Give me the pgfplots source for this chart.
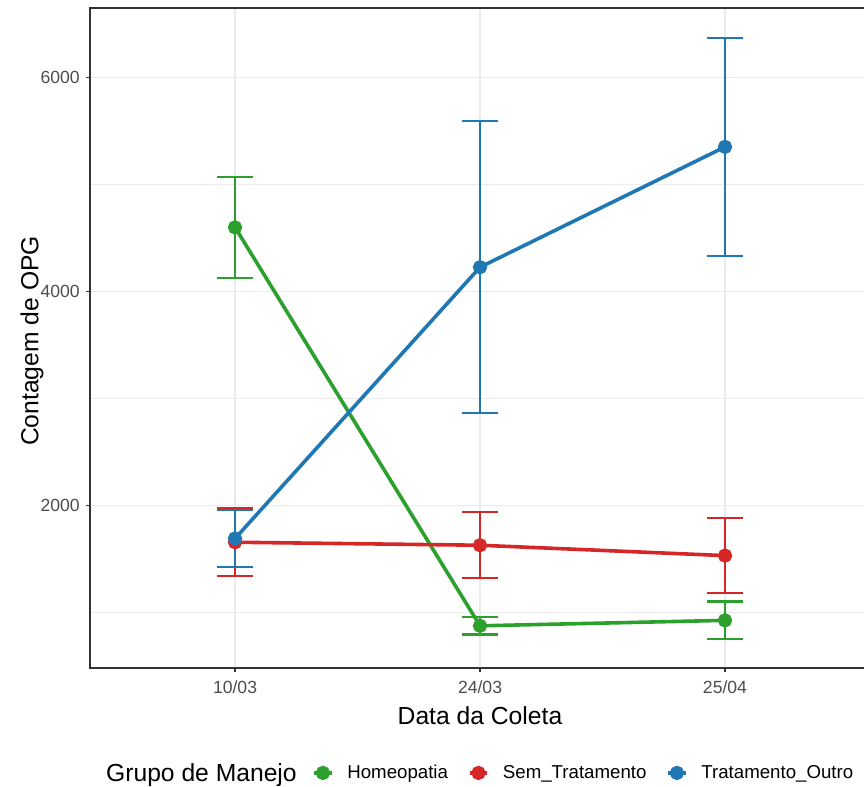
\documentclass[border=0pt]{standalone}
\usepackage{pgfplots}
\pgfplotsset{compat=1.18}
\usepackage{fontspec}
\setmainfont{Liberation Sans}
\definecolor{cH}{RGB}{44,160,44}
\definecolor{cS}{RGB}{214,39,40}
\definecolor{cT}{RGB}{31,119,180}
\definecolor{gridc}{RGB}{235,235,235}
\definecolor{g20}{RGB}{51,51,51}
\definecolor{g30}{RGB}{77,77,77}

\pgfplotstableread{
x y e lo hi
1 4597 473 4124 5070
2 874 80 794 954
3 925 175 750 1100
}\homeo
\pgfplotstableread{
x y e lo hi
1 1655 317 1338 1972
2 1627 308 1319 1935
3 1530 350 1180 1880
}\semtrat
\pgfplotstableread{
x y e lo hi
1 1690 268 1422 1958
2 4225 1365 2860 5590
3 5349 1018 4331 6367
}\tratout

\pgfplotsset{capstyle/.style={forget plot, only marks, mark=-, mark size=13.5pt, line width=1.8pt,
  mark options={line width=1.8pt, solid}, every mark/.append style={line width=1.8pt}}}

\begin{document}
\begin{tikzpicture}
\clip (-67.5pt,-89.25pt) rectangle (580.5pt,501pt);
\begin{axis}[
  at={(0,0)}, anchor=south west,
  scale only axis, width=586.5pt, height=495pt,
  xmin=0.408, xmax=3.6, ymin=480, ymax=6647,
  xtick={1,2,3}, xticklabels={10/03,24/03,25/04},
  ytick={2000,4000,6000}, minor ytick={1000,3000,5000},
  scaled y ticks=false,
  yticklabel={\pgfmathprintnumber[fixed,1000 sep={}]{\tick}},
  /pgf/number format/assume math mode=true,
  grid=both,
  major grid style={gridc, line width=0.9pt},
  minor grid style={gridc, line width=0.5pt},
  axis line style={g20, line width=0.8pt},
  tick align=outside, major tick length=3pt,
  major tick style={g20, line width=0.8pt},
  minor tick length=0pt,
  xtick pos=bottom, ytick pos=left,
  tick label style={font=\fontsize{13.2}{15}\selectfont, text=g30},
  xticklabel style={inner sep=0pt, anchor=north, yshift=-6pt},
  yticklabel style={inner sep=0pt, anchor=east, xshift=-4.5pt},
  xlabel={Data da Coleta}, ylabel={Contagem de OPG},
  label style={font=\fontsize{18.5}{21}\selectfont},
  xlabel style={at={(axis description cs:0.4987,-0.0727)}, anchor=center},
  ylabel style={at={(axis description cs:-0.0742,0.4955)}, anchor=center},
  legend style={draw=none, fill=none, at={(axis description cs:0.279,-0.159)}, anchor=west,
    font=\fontsize{14}{16}\selectfont, nodes={inner sep=0pt},
    /tikz/every even column/.append style={column sep=15pt},
    /tikz/every odd column/.append style={column sep=10.5pt}},
  legend columns=-1,
  legend image code/.code={\draw[mark repeat=2, mark phase=2, #1] plot coordinates {(0pt,0pt)(6.5pt,0pt)(13pt,0pt)};},
  error bars/y dir=both, error bars/y explicit,
  error bars/error mark=none,
]
% Homeopatia
\addplot[cH, line width=2.7pt, mark=*, mark size=4pt, mark options={fill=cH, draw=cH},
  error bars/error bar style={line width=1.8pt, cH}]
  table[x=x, y=y, y error=e] {\homeo};
\addlegendentry{Homeopatia}
\addplot[cH, capstyle] table[x=x, y=hi] {\homeo};
\addplot[cH, capstyle] table[x=x, y=lo] {\homeo};
% Sem tratamento
\addplot[cS, line width=2.7pt, mark=*, mark size=4pt, mark options={fill=cS, draw=cS},
  error bars/error bar style={line width=1.8pt, cS}]
  table[x=x, y=y, y error=e] {\semtrat};
\addlegendentry{Sem\_Tratamento}
\addplot[cS, capstyle] table[x=x, y=hi] {\semtrat};
\addplot[cS, capstyle] table[x=x, y=lo] {\semtrat};
% Tratamento outro
\addplot[cT, line width=2.7pt, mark=*, mark size=4pt, mark options={fill=cT, draw=cT},
  error bars/error bar style={line width=1.8pt, cT}]
  table[x=x, y=y, y error=e] {\tratout};
\addlegendentry{Tratamento\_Outro}
\addplot[cT, capstyle] table[x=x, y=hi] {\tratout};
\addplot[cT, capstyle] table[x=x, y=lo] {\tratout};
\end{axis}
\node[anchor=base east, font=\fontsize{18.5}{21}\selectfont, inner sep=0pt]
  at (155.25pt,-85.5pt) {Grupo de Manejo};
\end{tikzpicture}
\end{document}
